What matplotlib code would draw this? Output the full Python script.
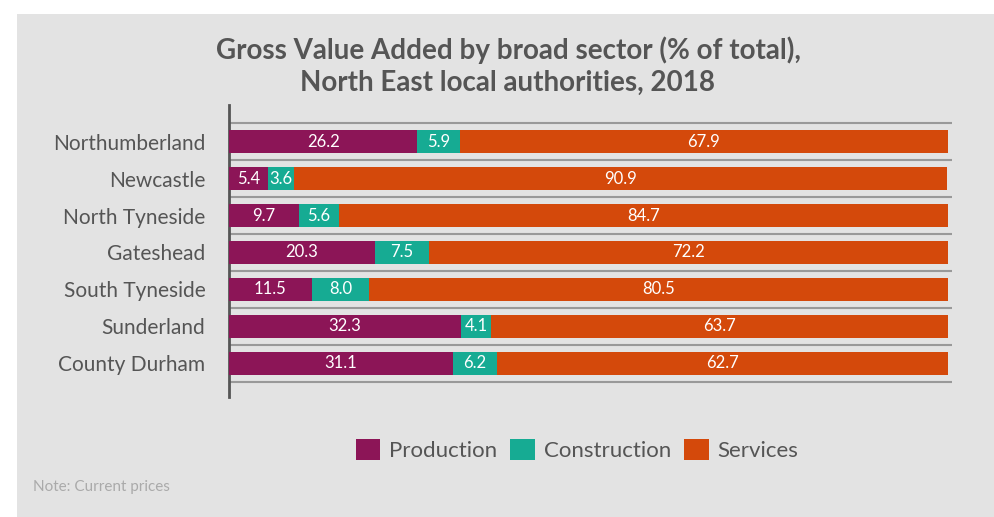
import numpy as np
import matplotlib.pyplot as plt
from matplotlib.patches import Rectangle, Patch

# GVA shares by broad sector, 2018
areas = ["Northumberland", "Newcastle", "North Tyneside", "Gateshead",
         "South Tyneside", "Sunderland", "County Durham"]
production = [26.2, 5.4, 9.7, 20.3, 11.5, 32.3, 31.1]
construction = [5.9, 3.6, 5.6, 7.5, 8.0, 4.1, 6.2]
services = [67.9, 90.9, 84.7, 72.2, 80.5, 63.7, 62.7]

sectors = ["Production", "Construction", "Services"]
colors = ["#8c1557", "#16ab93", "#d4490b"]
bg = "#e3e3e3"
text_col = "#555555"

plt.rcParams['font.family'] = ['Lato', 'DejaVu Sans']

fig = plt.figure(figsize=(9.94, 5.17), dpi=100)
fig.patch.set_facecolor("white")
fig.patches.append(Rectangle((17 / 994, 0), 1 - 17 / 994, 1 - 14 / 517,
                             transform=fig.transFigure, facecolor=bg,
                             edgecolor="none", zorder=-10))

ax = fig.add_axes([229 / 994, 1 - 397 / 517, (952 - 229) / 994, (397 - 105) / 517])
ax.set_facecolor(bg)

y = np.arange(len(areas))
left = np.zeros(len(areas))
for vals, col, name in zip([production, construction, services], colors, sectors):
    vals = np.array(vals)
    bars = ax.barh(y, vals, left=left, height=0.63, color=col, label=name, zorder=3)
    for rect, v in zip(bars, vals):
        ax.text(rect.get_x() + rect.get_width() / 2, rect.get_y() + rect.get_height() / 2,
                f"{v:.1f}", ha="center", va="center", color="white", fontsize=12, zorder=4)
    left += vals

# separator lines between rows
for b in np.arange(-0.5, len(areas), 1.0):
    ax.axhline(b, color="#999999", lw=1.5, zorder=2)

ax.set_xlim(0, 100.6)
ax.set_ylim(6.91, -0.99)
ax.set_yticks(y)
ax.set_yticklabels(areas, fontsize=15, color=text_col)
ax.tick_params(axis="y", length=0, pad=17)
ax.set_xticks([])
for s in ["top", "right", "bottom"]:
    ax.spines[s].set_visible(False)
ax.spines["left"].set_color("#555555")
ax.spines["left"].set_linewidth(2)

fig.text(508 / 994, 1 - 50 / 517, "Gross Value Added by broad sector (% of total),",
         ha="center", va="center", fontsize=20, fontweight="bold", color=text_col)
fig.text(508 / 994, 1 - 83 / 517, "North East local authorities, 2018",
         ha="center", va="center", fontsize=20, fontweight="bold", color=text_col)

handles = [Patch(facecolor=c, label=n) for c, n in zip(colors, sectors)]
fig.legend(handles=handles, loc="center", bbox_to_anchor=(577 / 994, 1 - 450 / 517),
           ncol=3, frameon=False, fontsize=16, handlelength=1.1, handleheight=1.1,
           handletextpad=0.4, columnspacing=0.6, labelcolor=text_col)

fig.text(33 / 994, 1 - 487 / 517, "Note: Current prices", ha="left", va="center",
         fontsize=11, color="#aaaaaa")

fig.savefig("out.png", dpi=100, facecolor=fig.get_facecolor())
